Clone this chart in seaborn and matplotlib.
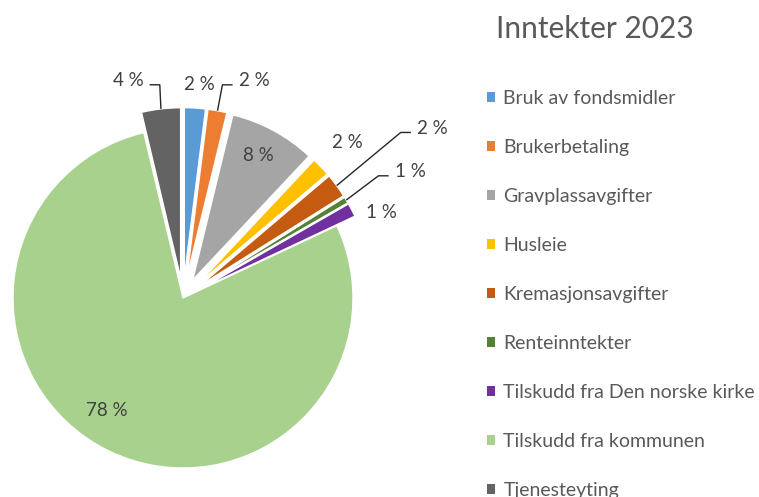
import numpy as np
import matplotlib
matplotlib.use("Agg")
import matplotlib.pyplot as plt
import seaborn as sns

# Income categories and their shares (per cent)
categories = [
    "Bruk av fondsmidler",
    "Brukerbetaling",
    "Gravplassavgifter",
    "Husleie",
    "Kremasjonsavgifter",
    "Renteinntekter",
    "Tilskudd fra Den norske kirke",
    "Tilskudd fra kommunen",
    "Tjenesteyting",
]
shares = [2.0, 1.8, 8.2, 1.8, 2.3, 0.6, 1.3, 78.3, 3.7]
title = "Inntekter 2023"

colors = sns.color_palette([
    "#5B9BD5", "#ED7D31", "#A5A5A5", "#FFC000", "#C55A11",
    "#548235", "#7030A0", "#A9D18E", "#636363",
])

# Label placement per slice: radial distance, angular shift from the wedge
# middle (degrees, clockwise), text alignment and whether a leader line is drawn
lab_dist = [1.26, 1.32, 0.95, 1.33, 1.70, 1.45, 1.27, 0.80, 1.30]
lab_shift = [0.7, 3.9, -0.7, 0.2, 0.2, 0.1, 4.1, 8.1, -3.6]
lab_ha = ["center", "left", "center", "center", "left", "left", "center", "center", "right"]
leader = [False, True, False, False, True, True, False, False, True]
explode = [0.12, 0.12, 0.12, 0.12, 0.12, 0.12, 0.12, 0.0, 0.12]

sns.set_theme(style="white")
plt.rcParams["font.family"] = ["Lato", "DejaVu Sans"]

W, H = 759, 497
fig = plt.figure(figsize=(W / 100, H / 100), dpi=100)
ax = fig.add_axes([0, 0, 1, 1])

wedges, _ = ax.pie(
    shares, colors=colors, startangle=90, counterclock=False,
    explode=explode, radius=1.0,
    wedgeprops=dict(edgecolor="white", linewidth=1.0),
)

# Axes limits so that the pie sits left of the legend
cx, cy, rpx = 183, 298, 170
ax.set_xlim(-cx / rpx, (W - cx) / rpx)
ax.set_ylim(-(H - cy) / rpx, cy / rpx)
ax.set_aspect("auto")
ax.axis("off")

def unit(deg_cw):
    a = np.deg2rad(deg_cw)
    return np.array([np.sin(a), np.cos(a)])

total = sum(shares)
cum = np.cumsum([0] + shares[:-1])
label_color = "#404040"
for i, v in enumerate(shares):
    mid = (cum[i] + v / 2) / total * 360.0
    p = lab_dist[i] * unit(mid + lab_shift[i])
    txt = f"{round(v)} %"
    ax.text(p[0], p[1], txt, ha=lab_ha[i], va="center", fontsize=13.5,
            color=label_color)
    if leader[i]:
        s = explode[i] * unit(mid) + 1.0 * unit(mid)
        sgn = 1 if lab_ha[i] == "left" else -1
        ly = p[1] - 0.025
        e = (p[0] - sgn * 0.095, ly)
        h = (p[0] - sgn * 0.035, ly)
        ax.plot([s[0], e[0], h[0]], [s[1], e[1], h[1]], color="#262626",
                linewidth=1.0, solid_capstyle="butt")

fig.text(595 / W, 1 - 29 / H, title, ha="center", va="center",
         fontsize=21.5, color="#595959")

leg = fig.legend(
    wedges, categories, loc="upper left",
    bbox_to_anchor=(487 / W, 1 - 90 / H), frameon=False,
    fontsize=14, labelcolor="#595959", borderpad=0, borderaxespad=0,
    handlelength=0.42, handleheight=0.42, handletextpad=0.42,
    labelspacing=1.645,
)
for hnd in leg.legend_handles:
    hnd.set_edgecolor("none")

fig.savefig("out.png", dpi=100)
